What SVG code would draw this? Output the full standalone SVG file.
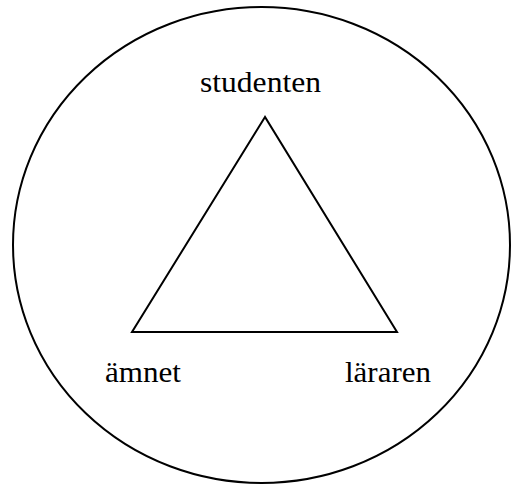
<svg xmlns="http://www.w3.org/2000/svg" width="511" height="486" viewBox="0 0 511 486">
<style>
.ln{fill:none;stroke:#000;stroke-width:2}
.lb{font-family:"Liberation Serif","Times New Roman",serif;font-size:29px;fill:#000}
</style>
<rect width="511" height="486" fill="#fff"/>
<g id="connectors">
<ellipse class="ln" cx="261.5" cy="245" rx="248.5" ry="238"/>
<polygon class="ln" points="265,117 132,332 397,332"/>
</g>
<g id="studenten"><text class="lb" x="200" y="92" textLength="121" lengthAdjust="spacingAndGlyphs">studenten</text></g>
<g id="amnet"><text class="lb" x="105" y="382" textLength="76" lengthAdjust="spacingAndGlyphs">ämnet</text></g>
<g id="lararen"><text class="lb" x="345" y="382" textLength="86" lengthAdjust="spacingAndGlyphs">läraren</text></g>
</svg>
